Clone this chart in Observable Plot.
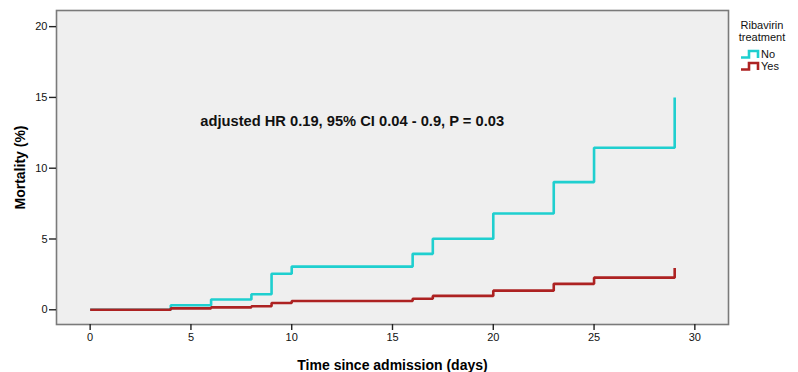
<!DOCTYPE html>
<html>
<head>
<meta charset="utf-8">
<script src="https://cdn.jsdelivr.net/npm/d3@7"></script>
<script src="https://cdn.jsdelivr.net/npm/@observablehq/plot@0.6"></script>
<style>
  html, body { margin: 0; padding: 0; background: #fff; }
  #wrap { position: relative; width: 798px; height: 372px; font-family: "Liberation Sans", Arial, sans-serif; }
  #legend { position: absolute; left: 736px; top: 19px; font-size: 11px; color: #111; }
  #legend .title { text-align: center; line-height: 12px; width: 52px; }
  #legend .item { display: flex; align-items: center; height: 12px; margin-left: 4px; }
  #legend .item span { margin-left: 1px; }
  g[aria-label="x-axis label"] text, g[aria-label="y-axis label"] text { font-weight: bold; font-size: 14px; fill: #000; }
  g[aria-label="x-axis tick"] path, g[aria-label="y-axis tick"] path { stroke: #222; stroke-width: 1.4px; }
</style>
</head>
<body>
<div id="wrap"></div>
<script>
// Days at which the Kaplan-Meier cumulative mortality changes
const daysNo  = [0, 4, 6, 8, 9, 10, 16, 17, 20, 23, 25, 29];
const mortNo  = [0, 0.32, 0.73, 1.1, 2.54, 3.05, 3.95, 5.02, 6.8, 9.02, 11.45, 15.0];
const daysYes = [0, 4, 6, 8, 9, 10, 16, 17, 20, 23, 25, 29];
const mortYes = [0, 0.1, 0.17, 0.25, 0.48, 0.62, 0.78, 0.98, 1.35, 1.83, 2.27, 2.95];
const groups = ["No", "Yes"];
const colors = ["#1fcfcf", "#ad2222"];
const xTicks = [0, 5, 10, 15, 20, 25, 30];
const yTicks = [0, 5, 10, 15, 20];
const annotation = [{day: 13.0, mort: 13.35, label: "adjusted HR 0.19, 95% CI 0.04 - 0.9, P = 0.03"}];

const rows = [
  ...daysNo.map((d, i) => ({group: "No", day: d, mort: mortNo[i]})),
  ...daysYes.map((d, i) => ({group: "Yes", day: d, mort: mortYes[i]}))
];

const chart = Plot.plot({
  width: 798,
  height: 372,
  marginLeft: 56,
  marginTop: 10,
  marginRight: 70,
  marginBottom: 48,
  style: {fontFamily: "Liberation Sans, Arial, sans-serif", fontSize: "11px", color: "#111", background: "#fff"},
  x: {domain: [-1.67, 31.67]},
  y: {domain: [-1.04, 21.14]},
  color: {domain: groups, range: colors},
  marks: [
    Plot.frame({fill: "#efefef", stroke: "none"}),
    Plot.line(rows, {x: "day", y: "mort", z: "group", stroke: "group", curve: "step-after", strokeWidth: 2.6, strokeLinejoin: "miter", strokeLinecap: "butt"}),
    Plot.text(annotation, {x: "day", y: "mort", text: "label", fontSize: 14.7, fontWeight: 600, fill: "#111"}),
    Plot.frame({stroke: "#7a7a7a", strokeWidth: 1.6}),
    Plot.axisX({ticks: xTicks, tickSize: 6, tickPadding: 3, tickFormat: d => d, label: "Time since admission (days)", labelAnchor: "center", labelOffset: 45, labelArrow: "none"}),
    Plot.axisY({ticks: yTicks, tickSize: 7, tickPadding: 2, tickFormat: d => d, label: "Mortality (%)", labelAnchor: "center", labelOffset: 41, labelArrow: "none"})
  ]
});

const wrap = document.getElementById("wrap");
wrap.appendChild(chart);

const legend = document.createElement("div");
legend.id = "legend";
let html = '<div class="title">Ribavirin<br>treatment</div><div style="height:5px"></div>';
groups.forEach((g, i) => {
  html += `<div class="item"><svg width="20" height="10"><path d="M1,8.5H9V2H18V9" fill="none" stroke="${colors[i]}" stroke-width="2.6"/></svg><span>${g}</span></div>`;
});
legend.innerHTML = html;
wrap.appendChild(legend);
</script>
</body>
</html>
